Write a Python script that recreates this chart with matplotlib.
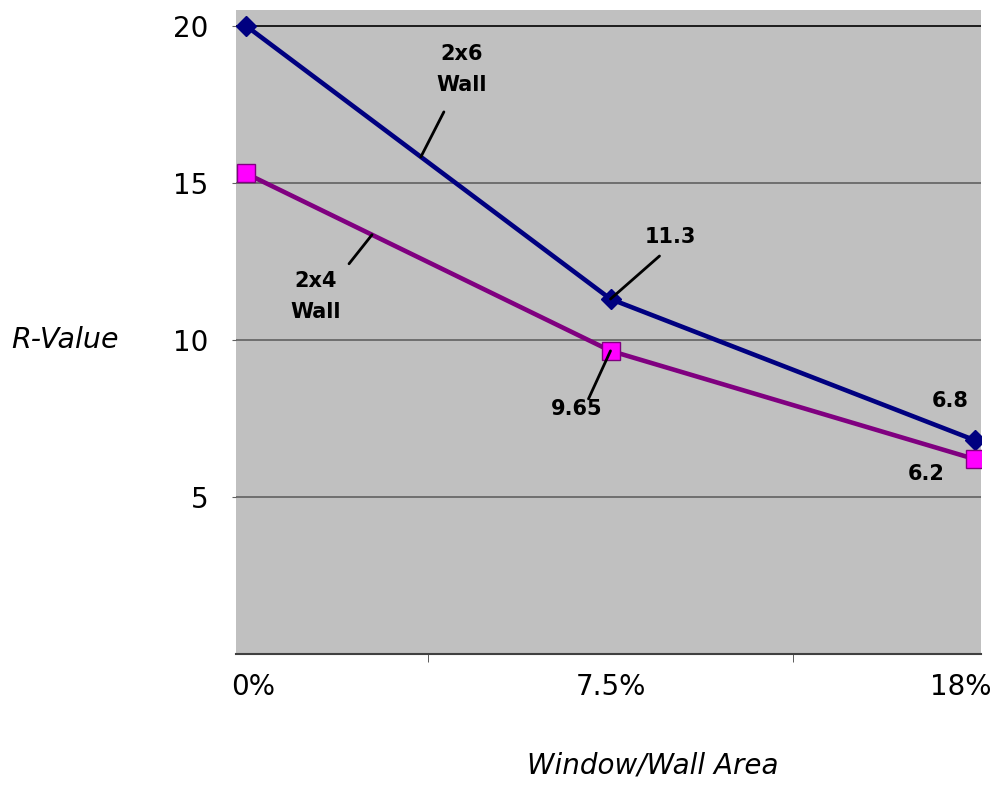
import numpy as np
import matplotlib
matplotlib.use("Agg")
import matplotlib.pyplot as plt
import matplotlib.transforms as mtransforms

# 数据
categories = ['0%', '7.5%', '18%']
wall_2x6 = [20, 11.3, 6.8]
wall_2x4 = [15.3, 9.65, 6.2]
y_ticks = [5, 10, 15, 20]

plt.rcParams['font.family'] = ['DejaVu Sans']

fig = plt.figure(figsize=(9.91, 8.06), dpi=100)
ax = fig.add_axes([236 / 991, (806 - 654) / 806, (981 - 236) / 991, (654 - 10) / 806])
ax.set_facecolor('#c0c0c0')

x = np.arange(len(categories))

ax.plot(x, wall_2x6, color='#000080', lw=3.3, marker='D', ms=10,
        mfc='#000080', mec='#000080', zorder=3)
ax.plot(x, wall_2x4, color='#800080', lw=3.3, marker='s', ms=13,
        mfc='#ff00ff', mec='#800080', mew=1, zorder=3)

ax.set_xlim(-0.027, 2.016)
ax.set_ylim(0, 20.5)

# 网格线
for v in y_ticks:
    ax.axhline(v, color='black' if v == 20 else '#606060', lw=1.2, zorder=1)

ax.set_yticks(y_ticks)
ax.set_yticklabels([str(v) for v in y_ticks], fontsize=20)
ax.tick_params(axis='y', length=3, color='#606060', pad=17)

ax.set_xticks(x)
ax.set_xticklabels(categories, fontsize=20)
ax.set_xticks([0.5, 1.5], minor=True)
ax.tick_params(axis='x', which='major', length=0, pad=14)
ax.tick_params(axis='x', which='minor', length=6, color='#404040')

# 两端的标签往里挪
xl = ax.get_xticklabels()
xl[0].set_transform(xl[0].get_transform() +
                    mtransforms.ScaledTranslation(7 / 100, 0, fig.dpi_scale_trans))
xl[2].set_transform(xl[2].get_transform() +
                    mtransforms.ScaledTranslation(-14 / 100, 0, fig.dpi_scale_trans))

for s in ['top', 'right', 'left']:
    ax.spines[s].set_visible(False)
ax.spines['bottom'].set_color('#404040')
ax.spines['bottom'].set_linewidth(1.5)

# 坐标轴标题
fig.text(65 / 991, 1 - 340 / 806, 'R-Value', fontsize=20.5, style='italic',
         ha='center', va='center')
fig.text(653 / 991, 1 - 765 / 806, 'Window/Wall Area', fontsize=20,
         style='italic', ha='center', va='center')

# 标注
lbl = dict(fontsize=15, fontweight='bold', ha='center', va='center',
           textcoords='offset pixels', linespacing=1.7)
line = dict(arrowstyle='-', color='black', lw=2, shrinkA=0, shrinkB=0)


def leader(xy, off_line, off_text, text):
    ax.annotate('', xy=xy, xytext=off_line, textcoords='offset pixels',
                arrowprops=line, zorder=4)
    ax.annotate(text, xy=xy, xytext=off_text, **lbl)


p = 0.48
leader((p, np.interp(p, x, wall_2x6)), (23, 45), (41, 87), '2x6\nWall')
p = 0.346
leader((p, np.interp(p, x, wall_2x4)), (-23, -29), (-56, -62), '2x4\nWall')
leader((1, wall_2x6[1]), (49, 43), (60, 62), '11.3')
leader((1, wall_2x4[1]), (-22, -48), (-34, -58), '9.65')
ax.annotate('6.8', xy=(2, wall_2x6[2]), xytext=(-25, 39), **lbl)
ax.annotate('6.2', xy=(2, wall_2x4[2]), xytext=(-49, -15), **lbl)

fig.savefig('out.png', dpi=100)
